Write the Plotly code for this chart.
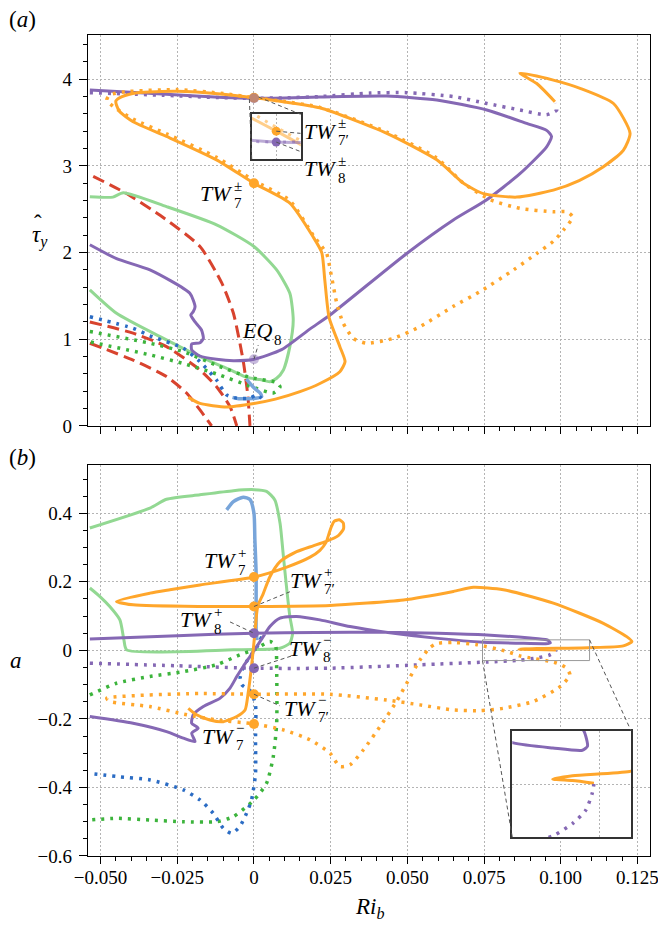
import plotly.graph_objects as go

# ---------------- axis settings ----------------
RI_RANGE = [-0.0541, 0.1291]
TAU_RANGE = [0.0, 4.51]
A_RANGE = [-0.6, 0.541]
RI_TICKS = [-0.05, -0.025, 0.0, 0.025, 0.05, 0.075, 0.1, 0.125]
RI_LABELS = ['−0.050', '−0.025', '0', '0.025', '0.050', '0.075', '0.100', '0.125']
TAU_TICKS = [0, 1, 2, 3, 4]
TAU_LABELS = ['0', '1', '2', '3', '4']
A_TICKS = [-0.6, -0.4, -0.2, 0.0, 0.2, 0.4]
A_LABELS = ['−0.6', '−0.4', '−0.2', '0', '0.2', '0.4']

# ---------------- panel (a): tau_y versus Ri_b ----------------
tau_orange_solid_x = [0.0981, 0.0922, 0.0867, 0.0976, 0.1063, 0.1172, 0.1226, 0.1204, 0.1139, 0.1060,
                      0.0976, 0.0857, 0.0748, 0.0683, 0.0596, 0.0433, 0.0215, 0.0100, 0.0, -0.0100,
                      -0.0252, -0.0380, -0.0430, -0.0450, -0.0448, -0.0437, -0.0394, -0.0285, -0.0122, 0.0,
                      0.0117, 0.0193, 0.0221, 0.0231, 0.0245, 0.0280, 0.0297, 0.0280, 0.0215, 0.0150,
                      0.0070, 0.0, -0.0089, -0.0176, -0.0214]
tau_orange_solid_y = [3.74, 3.95, 4.07, 3.99, 3.895, 3.72, 3.376, 3.18, 2.99, 2.83,
                      2.72, 2.64, 2.68, 2.80, 3.07, 3.376, 3.67, 3.738, 3.7855, 3.826,
                      3.86, 3.845, 3.80, 3.75, 3.70, 3.625, 3.51, 3.34, 3.07, 2.80,
                      2.57, 2.18, 2.00, 1.68, 1.25, 0.915, 0.742, 0.626, 0.49, 0.396,
                      0.31, 0.26, 0.22, 0.26, 0.33]

tau_orange_dot_x = [0.0221, 0.0193, 0.0117, 0.0, -0.0122, -0.0285, -0.0394, -0.0453, -0.0480, -0.0470,
                    -0.0420, -0.0252, -0.0100, 0.0, 0.0100, 0.0215, 0.0433, 0.0596, 0.0683, 0.0770,
                    0.0867, 0.0976, 0.1020, 0.1039, 0.1009, 0.0976, 0.0922, 0.0846, 0.0737, 0.0650,
                    0.0541, 0.0454, 0.0367, 0.0324, 0.0291, 0.0270, 0.0253, 0.0237, 0.0221]
tau_orange_dot_y = [2.07, 2.20, 2.60, 2.83, 3.10, 3.37, 3.54, 3.67, 3.76, 3.82,
                    3.855, 3.88, 3.835, 3.7875, 3.742, 3.675, 3.39, 3.09, 2.80, 2.61,
                    2.51, 2.47, 2.47, 2.41, 2.26, 2.13, 1.99, 1.80, 1.55, 1.38,
                    1.145, 1.01, 0.954, 1.01, 1.185, 1.415, 1.72, 1.99, 2.07]

tau_purple_solid_x = [-0.0535, -0.0448, -0.0339, -0.0209, -0.0192, -0.0198, -0.0206, -0.0192, -0.0171, -0.0165,
                      -0.0176, -0.0203, -0.0203, -0.0176, -0.0122, -0.0067, 0.0, 0.0090, 0.0183, 0.0248,
                      0.0498, 0.0650, 0.0759, 0.0867, 0.0954, 0.0970, 0.0954, 0.0889, 0.0759, 0.0596,
                      0.0433, 0.0215, 0.0100, 0.0, -0.0100, -0.0300, -0.0535]
tau_purple_solid_y = [2.09, 1.93, 1.80, 1.53, 1.376, 1.318, 1.28, 1.20, 1.107, 1.01,
                      0.96, 0.946, 0.877, 0.807, 0.769, 0.753, 0.77, 0.88, 1.12, 1.28,
                      1.99, 2.376, 2.61, 2.91, 3.22, 3.34, 3.41, 3.49, 3.645, 3.76,
                      3.806, 3.795, 3.782, 3.780, 3.79, 3.83, 3.875]

tau_purple_dot_x = [-0.0535, -0.0300, -0.0100, 0.0, 0.0100, 0.0215, 0.0378, 0.0498, 0.0650, 0.0759,
                    0.0867, 0.0954, 0.0987, 0.0981]
tau_purple_dot_y = [3.845, 3.815, 3.786, 3.780, 3.785, 3.80, 3.84, 3.845, 3.80, 3.72,
                    3.645, 3.59, 3.645, 3.72]

tau_green_solid_x = [-0.0535, -0.0460, -0.0426, -0.0285, -0.0122, 0.0, 0.0074, 0.0117, 0.0128, 0.0117,
                     0.0096, 0.0074, 0.0052, 0.0020, -0.0024, -0.0067, -0.0176, -0.0306, -0.0448, -0.0535]
tau_green_solid_y = [2.645, 2.64, 2.69, 2.53, 2.32, 2.07, 1.80, 1.53, 1.22, 0.915,
                     0.646, 0.55, 0.51, 0.535, 0.56, 0.63, 0.80, 1.03, 1.30, 1.57]

tau_green_dot_x = [-0.0535, -0.0339, -0.0230, -0.0122, -0.0013, 0.0074, 0.0085, 0.0063, -0.0013, -0.0122,
                   -0.0230, -0.0339, -0.0535]
tau_green_dot_y = [1.09, 0.954, 0.857, 0.70, 0.56, 0.50, 0.45, 0.38, 0.46, 0.60,
                   0.72, 0.82, 0.97]

tau_blue_solid_x = [-0.0025, 0.0, 0.0020, 0.0025, 0.0005, -0.0050, -0.0070]
tau_blue_solid_y = [0.54, 0.44, 0.38, 0.34, 0.32, 0.315, 0.33]

tau_blue_dot_x = [-0.0535, -0.0394, -0.0339, -0.0230, -0.0176, -0.0122, -0.0089, -0.0056, -0.0013, 0.0009, 0.0025]
tau_blue_dot_y = [1.26, 1.127, 1.04, 0.896, 0.742, 0.53, 0.358, 0.32, 0.32, 0.358, 0.32]

tau_red_1_x = [-0.0524, -0.0420, -0.0306, -0.0176, -0.0105, -0.0067, -0.0035, -0.0020, -0.0013]
tau_red_1_y = [2.88, 2.69, 2.43, 2.07, 1.65, 1.30, 0.75, 0.35, 0.0]
tau_red_2_x = [-0.0535, -0.0394, -0.0285, -0.0176, -0.0122, -0.0078, -0.0056]
tau_red_2_y = [1.20, 1.07, 0.915, 0.646, 0.453, 0.223, 0.0]
tau_red_3_x = [-0.0535, -0.0394, -0.0285, -0.0219, -0.0176, -0.0138]
tau_red_3_y = [0.954, 0.76, 0.57, 0.377, 0.185, 0.0]

# solutions marked in panel (a)
tau_tw7 = 2.80
tau_tw7p = 3.7855
tau_tw8 = 3.780
tau_eq8 = 0.77

# ---------------- panel (b): a versus Ri_b ----------------
a_orange_solid_x = [-0.0214, -0.0187, -0.0144, -0.0100, -0.0056, -0.0029, -0.0019, -0.0008, 0.0003, 0.0012,
                    0.0030, 0.0052, 0.0085, 0.0139, 0.0193, 0.0235, 0.0275, 0.0292, 0.0291, 0.0278,
                    0.0262, 0.0252, 0.0243, 0.0235, 0.0215, 0.0183, 0.0107, 0.0, -0.0176, -0.0274,
                    -0.0339, -0.0448, -0.0394, -0.0176, 0.0, 0.0248, 0.0487, 0.0650, 0.0715, 0.0813,
                    0.0976, 0.1139, 0.1215, 0.1232, 0.1204, 0.1090, 0.0922, 0.0864, 0.0922, 0.0985]
a_orange_solid_y = [-0.169, -0.188, -0.203, -0.208, -0.193, -0.174, -0.125, -0.047, 0.05, 0.128,
                    0.165, 0.215, 0.259, 0.288, 0.305, 0.318, 0.335, 0.355, 0.372, 0.381,
                    0.377, 0.36, 0.336, 0.315, 0.292, 0.272, 0.243, 0.214, 0.191, 0.177,
                    0.167, 0.143, 0.133, 0.128, 0.128, 0.131, 0.147, 0.172, 0.184, 0.177,
                    0.138, 0.079, 0.040, 0.026, 0.013, 0.0076, 0.0051, 0.0032, 0.0024, 0.0009]

a_orange_dot_x = [-0.0480, -0.0339, -0.0176, 0.0, 0.0248, 0.0433, 0.0541, 0.0650, 0.0737, 0.0813,
                  0.0911, 0.0998, 0.1030, 0.1019, 0.0987, 0.0867, 0.0824, 0.0724, 0.0650, 0.0596,
                  0.0574, 0.0541, 0.0498, 0.0465, 0.0411, 0.0357, 0.0313, 0.0280, 0.0248, 0.0183,
                  0.0096, 0.0, -0.0122, -0.0219, -0.0339, -0.0470, -0.0480]
a_orange_dot_y = [-0.140, -0.130, -0.126, -0.128, -0.128, -0.145, -0.159, -0.174, -0.176, -0.169,
                  -0.149, -0.106, -0.0715, -0.052, -0.037, -0.016, -0.003, 0.017, 0.023, 0.020,
                  0.008, -0.028, -0.096, -0.149, -0.222, -0.29, -0.334, -0.339, -0.30, -0.261,
                  -0.232, -0.2146, -0.203, -0.188, -0.164, -0.149, -0.140]

a_purple_solid_x = [-0.0535, -0.0394, -0.0285, -0.0230, -0.0192, -0.0203, -0.0182, -0.0203, -0.0198, -0.0165,
                    -0.0111, -0.0078, -0.0056, -0.0035, -0.0013, 0.0009, 0.0030, 0.0052, 0.0085, 0.0139,
                    0.0215, 0.0313, 0.0430, 0.0600, 0.0748, 0.0864, 0.0951, 0.0966, 0.0961, 0.0954,
                    0.0900, 0.0759, 0.0600, 0.0430, 0.0200, 0.0, -0.0250, -0.0535]
a_purple_solid_y = [-0.193, -0.2126, -0.237, -0.256, -0.266, -0.242, -0.227, -0.2126, -0.188, -0.164,
                    -0.14, -0.11, -0.0765, -0.047, -0.018, 0.011, 0.04, 0.0695, 0.094, 0.099,
                    0.089, 0.0695, 0.053, 0.035, 0.0238, 0.0209, 0.0196, 0.0219, 0.0276, 0.031,
                    0.036, 0.045, 0.05, 0.053, 0.052, 0.05, 0.043, 0.033]

a_purple_dot_x = [-0.0535, -0.0250, 0.0, 0.0248, 0.0541, 0.0759, 0.0864, 0.0922, 0.0961, 0.0980, 0.0985]
a_purple_dot_y = [-0.0375, -0.045, -0.052, -0.052, -0.042, -0.034, -0.029, -0.022, -0.0144, -0.0048, 0.0005]

a_green_solid_x = [-0.0535, -0.0339, -0.0285, -0.0176, -0.0067, 0.0, 0.0041, 0.0068, 0.0085, 0.0096,
                   0.0107, 0.0117, 0.0126, 0.0117, 0.0085, -0.0067, -0.0415, -0.0424, -0.0437, -0.0470,
                   -0.0502, -0.0535]
a_green_solid_y = [0.357, 0.415, 0.441, 0.454, 0.466, 0.469, 0.464, 0.439, 0.371, 0.274,
                   0.177, 0.099, 0.05, 0.021, 0.0064, 0.0015, 0.0015, 0.031, 0.089, 0.128,
                   0.157, 0.182]

a_green_dot_x = [-0.0535, -0.0448, -0.0339, -0.0230, -0.0122, -0.0046, 0.0, 0.0052, 0.0070, 0.0074,
                 0.0074, 0.0063, 0.0041, 0.0, -0.0067, -0.0122, -0.0230, -0.0339, -0.0448, -0.0535]
a_green_dot_y = [-0.13, -0.096, -0.076, -0.062, -0.042, -0.013, 0.0015, 0.026, 0.015, -0.057,
                 -0.213, -0.31, -0.388, -0.4365, -0.485, -0.50, -0.50, -0.495, -0.49, -0.495]

a_blue_solid_x = [-0.0089, -0.0067, -0.0035, -0.0013, 0.0, 0.0003, 0.0007, 0.0007, 0.0007, 0.0010]
a_blue_solid_y = [0.41, 0.434, 0.447, 0.44, 0.40, 0.323, 0.225, 0.128, 0.06, 0.03]

a_blue_dot_x = [0.0025, 0.0010, -0.0015, -0.0035, -0.0045, -0.0040, -0.0010, 0.0005, 0.0005, 0.0005,
                -0.0008, -0.0024, -0.0046, -0.0073, -0.0100, -0.0133, -0.0176, -0.0230, -0.0339, -0.0448,
                -0.0535]
a_blue_dot_y = [0.04, 0.01, -0.02, -0.05, -0.08, -0.10, -0.12, -0.16, -0.26, -0.36,
                -0.4365, -0.475, -0.514, -0.534, -0.519, -0.475, -0.4365, -0.407, -0.378, -0.368,
                -0.359]

# solutions marked in panel (b)
a_tw7_plus, a_tw7p_plus, a_tw8_plus = 0.214, 0.128, 0.05
a_tw8_minus, a_tw7p_minus, a_tw7_minus = -0.052, -0.128, -0.2146

# ---------------- styling ----------------
ORANGE = '#ffa62b'
PURPLE = '#8568b4'
GREEN_L = '#92d892'
GREEN_D = '#3cb43c'
BLUE_L = '#78a5da'
BLUE_D = '#2b6cc4'
RED = '#d8432e'
SERIF = 'Times New Roman, Liberation Serif, Tinos, serif'
DASHES = {'solid': 'solid', 'dot': '3px,6px', 'dash': '12px,6px'}

# panel geometry (paper fractions)
DOM_X = [0.0, 1.0]
DOM_A = [0.5238, 1.0]
DOM_B = [0.0, 0.4763]
INSET_A_X, INSET_A_Y = [0.2913, 0.3785], [0.849, 0.9034]
INSET_B_X, INSET_B_Y = [0.755, 0.9662], [0.0228, 0.1526]
INSET_A_RANGE_X, INSET_A_RANGE_Y = [-0.0015, 0.0015], [3.7715, 3.794]
INSET_B_RANGE_X, INSET_B_RANGE_Y = [0.0745, 0.1094], [-0.0298, 0.0307]

fig = go.Figure()


def curve(xs, ys, color, style, xa='x', ya='y', width=3.0, opacity=1.0):
    fig.add_trace(go.Scatter(
        x=xs, y=ys, mode='lines', xaxis=xa, yaxis=ya, opacity=opacity,
        line=dict(color=color, width=width, dash=DASHES[style], shape='spline', smoothing=0.6),
        hoverinfo='skip', showlegend=False))


def point(x, y, color, xa='x', ya='y', size=10, opacity=1.0):
    fig.add_trace(go.Scatter(
        x=[x], y=[y], mode='markers', xaxis=xa, yaxis=ya, opacity=opacity,
        marker=dict(color=color, size=size, line=dict(width=0)),
        hoverinfo='skip', showlegend=False))


# panel (a)
curve(tau_red_1_x, tau_red_1_y, RED, 'dash')
curve(tau_red_2_x, tau_red_2_y, RED, 'dash')
curve(tau_red_3_x, tau_red_3_y, RED, 'dash')
curve(tau_green_solid_x, tau_green_solid_y, GREEN_L, 'solid')
curve(tau_green_dot_x, tau_green_dot_y, GREEN_D, 'dot', width=3.5)
curve(tau_blue_solid_x, tau_blue_solid_y, BLUE_L, 'solid', width=3.5)
curve(tau_blue_dot_x, tau_blue_dot_y, BLUE_D, 'dot', width=3.5)
curve(tau_purple_solid_x, tau_purple_solid_y, PURPLE, 'solid')
curve(tau_purple_dot_x, tau_purple_dot_y, PURPLE, 'dot', width=3.5)
curve(tau_orange_solid_x, tau_orange_solid_y, ORANGE, 'solid')
curve(tau_orange_dot_x, tau_orange_dot_y, ORANGE, 'dot', width=3.5)
point(0.0, tau_tw7, ORANGE)
point(0.0, tau_tw7p, ORANGE)
point(0.0, tau_tw8, PURPLE, opacity=0.5)
point(0.0, tau_eq8, PURPLE, opacity=0.45)

# panel (a) inset
for xs, ys, col, st in [(tau_orange_solid_x, tau_orange_solid_y, ORANGE, 'solid'),
                        (tau_orange_dot_x, tau_orange_dot_y, ORANGE, 'dot'),
                        (tau_purple_solid_x, tau_purple_solid_y, PURPLE, 'solid'),
                        (tau_purple_dot_x, tau_purple_dot_y, PURPLE, 'dot')]:
    curve(xs, ys, col, st, xa='x3', ya='y3', opacity=0.55)
point(0.0, tau_tw7p, ORANGE, xa='x3', ya='y3', size=9)
point(0.0, tau_tw8, PURPLE, xa='x3', ya='y3', size=9)

# panel (b)
curve(a_green_solid_x, a_green_solid_y, GREEN_L, 'solid', 'x2', 'y2')
curve(a_green_dot_x, a_green_dot_y, GREEN_D, 'dot', 'x2', 'y2', width=3.5)
curve(a_blue_solid_x, a_blue_solid_y, BLUE_L, 'solid', 'x2', 'y2', width=3.5)
curve(a_blue_dot_x, a_blue_dot_y, BLUE_D, 'dot', 'x2', 'y2', width=3.5)
curve(a_purple_solid_x, a_purple_solid_y, PURPLE, 'solid', 'x2', 'y2')
curve(a_purple_dot_x, a_purple_dot_y, PURPLE, 'dot', 'x2', 'y2', width=3.5)
curve(a_orange_solid_x, a_orange_solid_y, ORANGE, 'solid', 'x2', 'y2')
curve(a_orange_dot_x, a_orange_dot_y, ORANGE, 'dot', 'x2', 'y2', width=3.5)
for val, col in [(a_tw7_plus, ORANGE), (a_tw7p_plus, ORANGE), (a_tw8_plus, PURPLE),
                 (a_tw8_minus, PURPLE), (a_tw7p_minus, ORANGE), (a_tw7_minus, ORANGE)]:
    point(0.0, val, col, 'x2', 'y2')

# panel (b) inset
curve(a_purple_solid_x, a_purple_solid_y, PURPLE, 'solid', 'x4', 'y4')
curve(a_orange_solid_x, a_orange_solid_y, ORANGE, 'solid', 'x4', 'y4')
curve(a_purple_dot_x, a_purple_dot_y, PURPLE, 'dot', 'x4', 'y4', width=3.5)

# ---------------- axes ----------------
TICKFONT = dict(family=SERIF, size=19, color='black')
GRID = dict(showgrid=True, gridcolor='#b4b4b4', gridwidth=1.2, griddash='2px,2px')
FRAME = dict(showline=True, mirror=True, linecolor='black', linewidth=1.3, zeroline=False,
             automargin=False)


def xaxis(show_labels, anchor):
    return dict(range=RI_RANGE, domain=DOM_X, anchor=anchor, tickmode='array', tickvals=RI_TICKS,
                ticktext=RI_LABELS, showticklabels=show_labels, ticks='outside', ticklen=7,
                tickwidth=1.2, tickcolor='black', tickfont=TICKFONT, ticklabeloverflow='allow',
                ticklabelstandoff=-3,
                minor=dict(tickmode='linear', tick0=0, dtick=0.005, ticks='outside', ticklen=4,
                           tickwidth=1, tickcolor='black', showgrid=False),
                **GRID, **FRAME)


def yaxis(rng, dom, vals, labels, minor_step, anchor):
    return dict(range=rng, domain=dom, anchor=anchor, tickmode='array', tickvals=vals, ticktext=labels,
                ticks='outside', ticklen=8, tickwidth=1.2, tickcolor='black', tickfont=TICKFONT,
                ticklabelstandoff=3,
                minor=dict(tickmode='linear', tick0=0, dtick=minor_step, ticks='outside', ticklen=4,
                           tickwidth=1, tickcolor='black', showgrid=False),
                **GRID, **FRAME)


def inset_axis(rng, dom, anchor, grid_vals):
    return dict(range=rng, domain=dom, anchor=anchor, tickmode='array', tickvals=grid_vals,
                showticklabels=False, ticks='', showgrid=bool(grid_vals), gridcolor='#b4b4b4',
                gridwidth=1.2, griddash='2px,2px', showline=True, mirror=True,
                linecolor='#333333', linewidth=1.5, zeroline=False, automargin=False)


fig.update_layout(
    width=658, height=925,
    margin=dict(l=88, r=8, t=35, b=69, pad=0, autoexpand=False),
    paper_bgcolor='white', plot_bgcolor='white',
    showlegend=False, hovermode=False,
    xaxis=xaxis(False, 'y'),
    yaxis=yaxis(TAU_RANGE, DOM_A, TAU_TICKS, TAU_LABELS, 0.2, 'x'),
    xaxis2=xaxis(True, 'y2'),
    yaxis2=yaxis(A_RANGE, DOM_B, A_TICKS, A_LABELS, 0.05, 'x2'),
    xaxis3=inset_axis(INSET_A_RANGE_X, INSET_A_X, 'y3', [0.0]),
    yaxis3=inset_axis(INSET_A_RANGE_Y, INSET_A_Y, 'x3', []),
    xaxis4=inset_axis(INSET_B_RANGE_X, INSET_B_X, 'y4', [0.1]),
    yaxis4=inset_axis(INSET_B_RANGE_Y, INSET_B_Y, 'x4', [0.0]),
)


# ---------------- inset frames and connectors ----------------
def to_paper(x, y, yr, ydom):
    px = DOM_X[0] + (x - RI_RANGE[0]) / (RI_RANGE[1] - RI_RANGE[0]) * (DOM_X[1] - DOM_X[0])
    py = ydom[0] + (y - yr[0]) / (yr[1] - yr[0]) * (ydom[1] - ydom[0])
    return px, py


def dashed(x0, y0, x1, y1, xref='paper', yref='paper', color='#555555'):
    fig.add_shape(type='line', x0=x0, y0=y0, x1=x1, y1=y1, xref=xref, yref=yref,
                  line=dict(color=color, width=1, dash='4px,3px'))


# region magnified in panel (a)
p_bl = to_paper(INSET_A_RANGE_X[0], INSET_A_RANGE_Y[0], TAU_RANGE, DOM_A)
p_tr = to_paper(INSET_A_RANGE_X[1], INSET_A_RANGE_Y[1], TAU_RANGE, DOM_A)
dashed(p_bl[0], p_bl[1], INSET_A_X[0], INSET_A_Y[0])
dashed(p_tr[0], p_tr[1], INSET_A_X[1], INSET_A_Y[1])

# region magnified in panel (b)
fig.add_shape(type='rect', x0=INSET_B_RANGE_X[0], x1=INSET_B_RANGE_X[1], y0=INSET_B_RANGE_Y[0],
              y1=INSET_B_RANGE_Y[1], xref='x2', yref='y2', line=dict(color='#999999', width=1))
q_bl = to_paper(INSET_B_RANGE_X[0], INSET_B_RANGE_Y[0], A_RANGE, DOM_B)
q_tr = to_paper(INSET_B_RANGE_X[1], INSET_B_RANGE_Y[1], A_RANGE, DOM_B)
dashed(q_bl[0], q_bl[1], INSET_B_X[0], INSET_B_Y[0])
dashed(q_tr[0], q_tr[1], INSET_B_X[1], INSET_B_Y[1])

# leader lines from marked solutions to their labels
dashed(0.0, tau_tw7p, 0.0015, 3.7844, 'x3', 'y3')
dashed(0.0, tau_tw8, 0.0015, 3.7752, 'x3', 'y3')
dashed(0.0, tau_eq8, 0.0014, 0.934, 'x', 'y')
dashed(0.0, a_tw7p_plus, 0.0117, 0.171, 'x2', 'y2')
dashed(-0.0078, 0.083, 0.0, a_tw8_plus, 'x2', 'y2')
dashed(0.0, a_tw8_minus, 0.0134, -0.013, 'x2', 'y2')
dashed(0.0, a_tw7p_minus, 0.0085, -0.162, 'x2', 'y2')

# ---------------- text ----------------
LABEL_FONT = dict(family=SERIF, size=22, color='black')
SMALL_FONT = dict(family=SERIF, size=15, color='black')


def name(x, y, xref, yref, base, sub, sup=None):
    fig.add_annotation(x=x, y=y, xref=xref, yref=yref, text=f'<i>{base}</i>', showarrow=False,
                       xanchor='right', yanchor='middle', font=LABEL_FONT, borderpad=0)
    fig.add_annotation(x=x, y=y, xref=xref, yref=yref, text=sub, showarrow=False,
                       xanchor='left', yanchor='middle', yshift=-9, font=SMALL_FONT, borderpad=0)
    if sup:
        fig.add_annotation(x=x, y=y, xref=xref, yref=yref, text=sup, showarrow=False,
                           xanchor='left', yanchor='middle', yshift=8, font=SMALL_FONT, borderpad=0)


name(-0.0068, 2.68, 'x', 'y', 'TW', '7', '±')
name(0.0271, 3.40, 'x', 'y', 'TW', "7′", '±')
name(0.0271, 2.97, 'x', 'y', 'TW', '8', '±')
name(0.0063, 1.10, 'x', 'y', 'EQ', '8')

name(-0.0055, 0.261, 'x2', 'y2', 'TW', '7', '+')
name(0.0225, 0.204, 'x2', 'y2', 'TW', "7′", '+')
name(-0.0134, 0.089, 'x2', 'y2', 'TW', '8', '+')
name(0.0222, 0.006, 'x2', 'y2', 'TW', '8', '−')
name(0.0205, -0.169, 'x2', 'y2', 'TW', "7′", '−')
name(-0.0062, -0.251, 'x2', 'y2', 'TW', '7', '−')

BIG_FONT = dict(family=SERIF, size=23, color='black')
fig.add_annotation(x=-0.1174, y=1.0183, xref='paper', yref='paper', text='(<i>a</i>)', showarrow=False,
                   xanchor='center', yanchor='middle', font=BIG_FONT)
fig.add_annotation(x=-0.1174, y=0.4848, xref='paper', yref='paper', text='(<i>b</i>)', showarrow=False,
                   xanchor='center', yanchor='middle', font=BIG_FONT)
# tau with a hat and subscript y
fig.add_annotation(x=-0.0854, y=0.754, xref='paper', yref='paper',
                   text='<i>τ</i><sub><i>y</i></sub>', showarrow=False,
                   xanchor='center', yanchor='middle', font=BIG_FONT)
fig.add_annotation(x=-0.089, y=0.754, xref='paper', yref='paper', yshift=13,
                   text='ˆ', showarrow=False, xanchor='center', yanchor='middle', font=BIG_FONT)
fig.add_annotation(x=-0.128, y=0.2387, xref='paper', yref='paper', text='<i>a</i>', showarrow=False,
                   xanchor='center', yanchor='middle', font=BIG_FONT)
fig.add_annotation(x=0.5018, y=-0.0633, xref='paper', yref='paper',
                   text='<i>Ri</i><sub><i>b</i></sub>', showarrow=False,
                   xanchor='center', yanchor='middle', font=BIG_FONT)

fig.write_html('out.html')
